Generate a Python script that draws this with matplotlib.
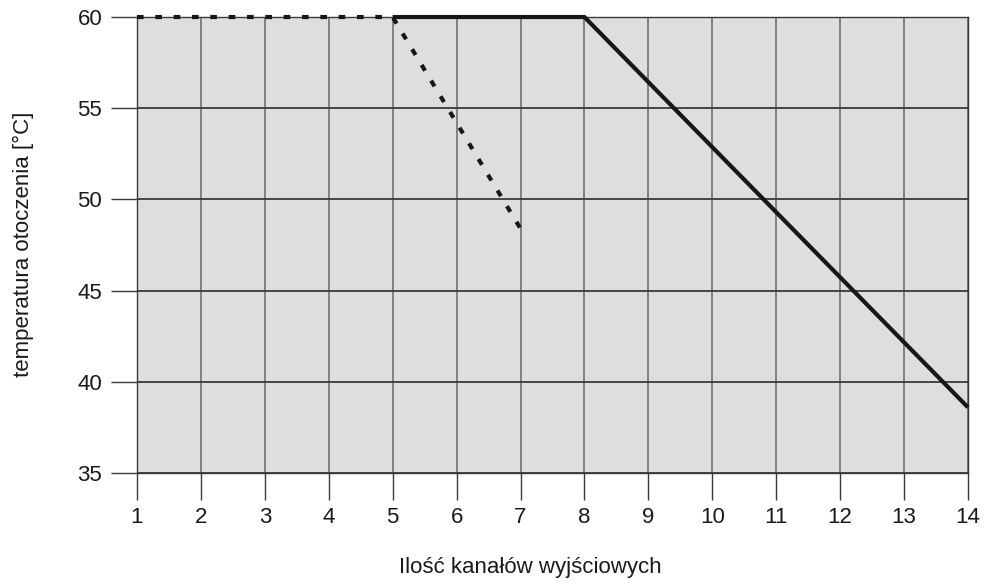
import matplotlib
matplotlib.use("Agg")
import matplotlib.pyplot as plt

plt.rcParams['font.family'] = ['Liberation Sans', 'DejaVu Sans']

# Derating curves: ambient temperature vs. number of output channels
solid_x = [5, 8, 14]
solid_y = [60, 60, 38.6]
dashed_x = [1, 5, 7]
dashed_y = [60, 60, 48.4]

x_ticks = list(range(1, 15))
y_ticks = [35, 40, 45, 50, 55, 60]

fig = plt.figure(figsize=(9.84, 5.87), dpi=100)
ax = fig.add_axes([0.1392, 0.1942, 0.8445, 0.7768])
ax.set_facecolor('#dedede')

ax.set_xlim(1, 14)
ax.set_ylim(35, 60)
ax.set_xticks(x_ticks)
ax.set_yticks(y_ticks)

ax.grid(axis='x', color='#7a7a7a', linewidth=1.3)
ax.grid(axis='y', color='#3a3a3a', linewidth=1.3)
ax.set_axisbelow(True)

for s in ax.spines.values():
    s.set_color('#3a3a3a')
    s.set_linewidth(1.0)

ax.tick_params(axis='x', direction='out', length=19.5, width=1.0, color='#3a3a3a',
               pad=5, labelsize=16, labelcolor='#1a1a1a')
ax.tick_params(axis='y', direction='out', length=19, width=1.0, color='#3a3a3a',
               pad=6, labelsize=16, labelcolor='#1a1a1a')

ax.plot(solid_x, solid_y, color='#1a1616', linewidth=3.0, solid_capstyle='butt',
        solid_joinstyle='miter', clip_on=False, zorder=5)
ax.plot(dashed_x, dashed_y, color='#1a1616', linewidth=3.0, dashes=(1.6, 2.8),
        dash_capstyle='butt', clip_on=False, zorder=4)

fig.text(0.539, 0.034, 'Ilość kanałów wyjściowych', ha='center', va='center',
         fontsize=16, color='#1a1a1a')
fig.text(0.024, 0.583, 'temperatura otoczenia [°C]', ha='center', va='center',
         rotation=90, fontsize=16, color='#1a1a1a')

fig.savefig('out.png', dpi=100)
